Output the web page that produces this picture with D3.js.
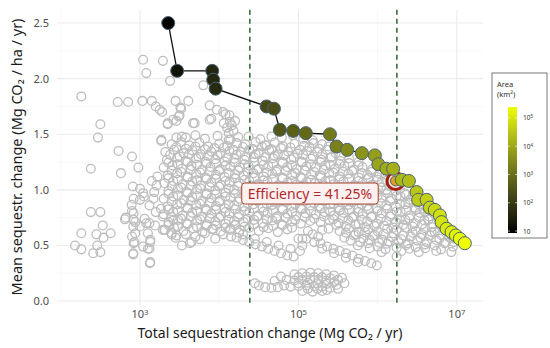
<!DOCTYPE html>
<html>
<head>
<script src="https://cdn.jsdelivr.net/npm/d3@7"></script>
<style>
  html, body { margin: 0; padding: 0; background: #fff; }
  svg { font-family: "Noto Sans", "Open Sans", sans-serif; }
</style>
</head>
<body>
<script>
var width = 550, height = 348;

// frontier points: total change (Mg CO2/yr), mean change (Mg CO2/ha/yr), area (km2)
var pathTotal = [2275, 2950, 8170, 8410, 9020, 39700, 49100, 58400, 85900, 124000, 250000,
  303000, 413000, 632000, 923000, 1.02e6, 1.29e6, 1.57e6, 1.68e6, 2.02e6, 2.48e6,
  3.10e6, 3.25e6, 4.15e6, 4.57e6, 5.27e6, 6.10e6, 6.41e6, 7.41e6, 8.57e6, 9.71e6, 1.09e7, 1.26e7];
var pathMean = [2.50, 2.07, 2.07, 1.99, 1.91, 1.75, 1.73, 1.54, 1.53, 1.51, 1.50,
  1.39, 1.36, 1.33, 1.31, 1.23, 1.19, 1.19, 1.08, 1.09, 1.08,
  0.98, 0.91, 0.91, 0.84, 0.82, 0.77, 0.71, 0.65, 0.62, 0.59, 0.56, 0.52];
var pathArea = [9.1, 14.3, 39.5, 42, 47, 227, 284, 379, 561, 821, 1667,
  2180, 3040, 4750, 7050, 8290, 10800, 13200, 15500, 18500, 23000,
  31600, 35700, 45600, 54400, 64300, 79200, 90300, 114000, 138000, 165000, 195000, 242000];
var highlightIndex = 18;

// all other candidate solutions: [log10 total change, mean change]
var cloud = [
  [2.26,1.84],[2.72,1.79],[2.85,1.79],[3.03,1.80],[3.15,1.80],[3.20,1.75],[3.28,1.70],[3.45,1.80],[3.61,1.80],
  [3.51,1.74],[3.49,1.66],[3.46,1.62],[3.35,1.59],[2.50,1.59],[2.47,1.47],[2.73,1.35],[2.90,1.30],[2.98,1.20],
  [2.76,1.15],[2.38,1.19],[3.27,1.44],[3.38,1.98],[3.04,2.17],[3.29,2.16],[3.08,2.05],[3.80,1.94],[3.25,1.72],
  [3.52,1.73],[3.42,1.63],[3.50,1.67],[3.67,1.60],[3.90,1.64],[3.88,1.76],[4.05,1.70],[4.135,1.61],[3.88,1.63],
  [3.69,1.60],[3.97,1.72],[4.08,1.68],[4.13,1.67],[4.16,1.58],[4.12,1.51],[4.37,1.48],[4.60,1.40],
  [3.35,1.60],[3.46,1.47],[3.53,1.48],[3.27,1.45],[4.10,1.56],[4.18,1.53],[4.06,1.60],[4.20,1.62],[4.14,1.45],
  [2.91,1.03],[2.92,0.92],[2.895,0.865],[2.90,0.81],[2.82,0.75],[2.94,0.71],[2.915,0.67],[2.94,0.61],[2.90,0.58],
  [2.93,0.53],[3.00,1.01],[3.05,0.94],[3.17,0.92],[3.12,0.70],[3.10,0.61],[3.13,0.55],[3.12,0.47],[3.19,0.68],
  [3.06,0.74],[3.265,0.83],[3.315,0.64],[3.40,0.60],[3.46,0.59],[3.53,0.50],[3.63,0.52],[2.915,0.42],[3.126,0.34],
  [3.13,0.35],[2.92,0.52],[3.04,0.49],[3.10,0.47],[3.13,0.53],[3.00,0.67],[3.08,0.70],[2.92,0.73],[2.92,0.79],
  [3.00,0.91],[3.04,0.97],[3.21,1.04],[3.29,0.76],[3.42,0.73],[3.29,0.64],[3.65,0.53],[3.76,0.555],[3.925,0.65],
  [4.135,0.64],[3.18,0.98],[3.15,1.08],[3.22,1.12],[3.12,0.86],[3.20,0.80],
  [2.18,0.50],[2.26,0.465],[2.41,0.43],[2.50,0.44],[2.46,0.50],[2.26,0.61],[2.45,0.60],[2.54,0.57],[2.63,0.61],
  [2.53,0.68],[2.38,0.80],[2.50,0.80],[2.81,0.735],[2.915,0.43],
  [3.58,1.47],[3.70,1.49],[3.82,1.46],[3.98,1.485],[4.12,1.45],[4.24,1.475],[4.52,1.455],[4.66,1.48],[4.79,1.47],
  [4.93,1.49],[5.06,1.46],[5.18,1.445],
  [3.40,1.41],[3.52,1.43],[3.62,1.40],[3.75,1.425],[3.86,1.39],[4.00,1.415],[4.10,1.395],[4.22,1.42],[4.33,1.41],
  [4.46,1.43],[4.58,1.40],[4.70,1.425],[4.81,1.39],[4.95,1.415],[5.07,1.395],[5.19,1.42],[5.30,1.41],
  [3.32,1.34],[3.43,1.36],[3.55,1.33],[3.66,1.355],[3.77,1.32],[3.90,1.345],[4.02,1.325],[4.13,1.35],[4.27,1.34],
  [4.38,1.36],[4.50,1.33],[4.63,1.355],[4.74,1.32],[4.87,1.345],[4.99,1.325],[5.11,1.35],[5.24,1.34],[5.36,1.36],[5.47,1.33],
  [3.34,1.27],[3.47,1.29],[3.58,1.26],[3.71,1.285],[3.83,1.25],[3.95,1.275],[4.07,1.255],[4.19,1.28],[4.32,1.27],
  [4.44,1.29],[4.55,1.26],[4.68,1.285],[4.80,1.25],[4.91,1.275],[5.04,1.255],[5.16,1.28],[5.29,1.27],[5.41,1.29],
  [5.53,1.26],[5.64,1.285],[5.76,1.25],
  [3.30,1.20],[3.41,1.22],[3.53,1.19],[3.65,1.215],[3.78,1.18],[3.89,1.205],[4.01,1.185],[4.14,1.21],[4.26,1.20],
  [4.37,1.22],[4.50,1.19],[4.62,1.215],[4.73,1.18],[4.86,1.205],[4.98,1.185],[5.10,1.21],[5.22,1.20],[5.34,1.22],
  [5.46,1.19],[5.58,1.215],[5.70,1.18],[5.81,1.205],[5.93,1.185],
  [3.35,1.13],[3.47,1.15],[3.60,1.12],[3.71,1.145],[3.83,1.11],[3.96,1.135],[4.07,1.115],[4.20,1.14],[4.31,1.13],
  [4.43,1.15],[4.56,1.12],[4.67,1.145],[4.80,1.11],[4.92,1.135],[5.03,1.115],[5.16,1.14],[5.28,1.13],[5.39,1.15],
  [5.52,1.12],[5.63,1.145],[5.76,1.11],[5.87,1.135],[5.99,1.115],[6.10,1.14],
  [3.31,1.06],[3.42,1.08],[3.54,1.05],[3.66,1.075],[3.77,1.04],[3.90,1.065],[4.02,1.045],[4.13,1.07],[4.25,1.06],
  [4.38,1.08],[4.49,1.05],[4.61,1.075],[4.74,1.04],[4.86,1.065],[4.97,1.045],[5.10,1.07],[5.21,1.06],[5.34,1.08],
  [5.45,1.05],[5.57,1.075],[5.70,1.04],[5.81,1.065],[5.93,1.045],[6.05,1.07],[6.17,1.05],[6.26,1.04],
  [3.36,0.99],[3.48,1.01],[3.59,0.98],[3.72,1.005],[3.84,0.97],[3.95,0.995],[4.08,0.975],[4.19,1.00],[4.32,0.99],
  [4.43,1.01],[4.55,0.98],[4.68,1.005],[4.79,0.97],[4.91,0.995],[5.04,0.975],[5.15,1.00],[5.27,0.99],[5.40,1.01],
  [5.51,0.98],[5.63,1.005],[5.75,0.97],[5.88,0.995],[5.99,0.975],[6.11,1.00],[6.23,0.99],[6.34,0.97],
  [3.30,0.92],[3.42,0.94],[3.55,0.91],[3.66,0.935],[3.78,0.90],[3.90,0.925],[4.01,0.905],[4.14,0.93],[4.26,0.92],
  [4.37,0.94],[4.50,0.91],[4.61,0.935],[4.73,0.90],[4.85,0.925],[4.98,0.905],[5.09,0.93],[5.21,0.92],[5.33,0.94],
  [5.46,0.91],[5.57,0.935],[5.69,0.90],[5.82,0.925],[5.93,0.905],[6.05,0.93],[6.17,0.92],[6.29,0.94],[6.41,0.91],[6.49,0.90],
  [3.35,0.85],[3.47,0.87],[3.60,0.84],[3.71,0.865],[3.83,0.83],[3.96,0.855],[4.07,0.835],[4.19,0.86],[4.32,0.85],
  [4.43,0.87],[4.55,0.84],[4.67,0.865],[4.80,0.83],[4.91,0.855],[5.03,0.835],[5.15,0.86],[5.27,0.85],[5.40,0.87],
  [5.51,0.84],[5.63,0.865],[5.76,0.83],[5.87,0.855],[5.99,0.835],[6.11,0.86],[6.23,0.85],[6.35,0.87],[6.47,0.84],[6.58,0.83],
  [3.30,0.78],[3.42,0.80],[3.54,0.77],[3.66,0.795],[3.78,0.76],[3.90,0.785],[4.02,0.765],[4.13,0.79],[4.25,0.78],
  [4.38,0.80],[4.49,0.77],[4.61,0.795],[4.73,0.76],[4.86,0.785],[4.97,0.765],[5.09,0.79],[5.22,0.78],[5.33,0.80],
  [5.45,0.77],[5.57,0.795],[5.70,0.76],[5.81,0.785],[5.93,0.765],[6.05,0.79],[6.17,0.78],[6.29,0.80],[6.41,0.77],
  [6.53,0.795],[6.65,0.76],[6.72,0.78],
  [3.36,0.71],[3.48,0.73],[3.59,0.70],[3.72,0.725],[3.84,0.69],[3.95,0.715],[4.08,0.695],[4.19,0.72],[4.31,0.71],
  [4.44,0.73],[4.55,0.70],[4.67,0.725],[4.79,0.69],[4.92,0.715],[5.03,0.695],[5.15,0.72],[5.28,0.71],[5.39,0.73],
  [5.51,0.70],[5.63,0.725],[5.76,0.69],[5.87,0.715],[5.99,0.695],[6.11,0.72],[6.23,0.71],[6.35,0.73],[6.47,0.70],
  [6.59,0.725],[6.70,0.69],[6.81,0.71],
  [3.31,0.64],[3.43,0.66],[3.55,0.63],[3.67,0.655],[3.79,0.62],[3.91,0.645],[4.02,0.625],[4.14,0.65],[4.26,0.64],
  [4.38,0.66],[4.50,0.63],[4.62,0.655],[4.74,0.62],[4.86,0.645],[5.12,0.63],[5.38,0.65],[5.52,0.63],[5.64,0.655],
  [5.76,0.62],[5.88,0.645],[6.00,0.625],[6.12,0.65],[6.24,0.64],[6.36,0.66],[6.48,0.63],[6.60,0.655],[6.72,0.62],
  [6.84,0.645],[6.92,0.63],
  [3.45,0.57],[3.70,0.58],[3.95,0.56],[4.15,0.58],[5.05,0.56],[5.25,0.58],[5.58,0.57],[5.70,0.59],[5.82,0.56],
  [5.94,0.585],[6.06,0.55],[6.18,0.575],[6.30,0.555],[6.42,0.58],[6.54,0.57],[6.66,0.59],[6.78,0.56],[6.90,0.575],[6.96,0.56],
  [5.75,0.50],[5.88,0.52],[6.00,0.49],[6.12,0.515],[6.24,0.48],[6.36,0.505],[6.48,0.485],[6.60,0.51],[6.72,0.50],
  [6.84,0.52],[6.95,0.49],
  [6.05,0.44],[6.24,0.40],[6.30,0.45],[6.52,0.44],[6.74,0.45],[6.93,0.44],
  [3.46,1.385],[3.58,1.37],[3.70,1.39],[3.82,1.365],[3.94,1.375],[4.06,1.38],[4.18,1.36],[4.30,1.385],[4.42,1.37],
  [4.54,1.39],[4.66,1.365],[4.78,1.375],[4.90,1.38],[5.02,1.36],[5.14,1.385],[5.26,1.37],[5.38,1.39],
  [3.38,1.315],[3.50,1.30],[3.62,1.32],[3.74,1.295],[3.86,1.305],[3.98,1.31],[4.10,1.29],[4.22,1.315],[4.34,1.30],
  [4.46,1.32],[4.58,1.295],[4.70,1.305],[4.82,1.31],[4.94,1.29],[5.06,1.315],[5.18,1.30],[5.30,1.32],[5.42,1.295],[5.54,1.305],
  [3.36,1.245],[3.48,1.23],[3.60,1.25],[3.72,1.225],[3.84,1.235],[3.96,1.24],[4.08,1.22],[4.20,1.245],[4.32,1.23],
  [4.44,1.25],[4.56,1.225],[4.68,1.235],[4.80,1.24],[4.92,1.22],[5.04,1.245],[5.16,1.23],[5.28,1.25],[5.40,1.225],
  [5.52,1.235],[5.64,1.24],[5.76,1.22],
  [3.40,1.175],[3.52,1.16],[3.64,1.18],[3.76,1.155],[3.88,1.165],[4.00,1.17],[4.12,1.15],[4.24,1.175],[4.36,1.16],
  [4.48,1.18],[4.60,1.155],[4.72,1.165],[4.84,1.17],[4.96,1.15],[5.08,1.175],[5.20,1.16],[5.32,1.18],[5.44,1.155],
  [5.56,1.165],[5.68,1.17],[5.80,1.15],[5.92,1.16],[6.02,1.145],
  [3.36,1.105],[3.48,1.09],[3.60,1.11],[3.72,1.085],[3.84,1.095],[3.96,1.10],[4.08,1.08],[4.20,1.105],[4.32,1.09],
  [4.44,1.11],[4.56,1.085],[4.68,1.095],[4.80,1.10],[4.92,1.08],[5.04,1.105],[5.16,1.09],[5.28,1.11],[5.40,1.085],
  [5.52,1.095],[5.64,1.10],[5.76,1.08],[5.88,1.105],[6.00,1.09],[6.12,1.085],
  [3.40,1.035],[3.52,1.02],[3.64,1.04],[3.76,1.015],[3.88,1.025],[4.00,1.03],[4.12,1.01],[4.24,1.035],[4.36,1.02],
  [4.48,1.04],[4.60,1.015],[4.72,1.025],[4.84,1.03],[4.96,1.01],[5.08,1.035],[5.20,1.02],[5.32,1.04],[5.44,1.015],
  [5.56,1.025],[5.68,1.03],[5.80,1.01],[5.92,1.035],[6.04,1.02],[6.16,1.03],[6.28,1.01],
  [3.36,0.965],[3.48,0.95],[3.60,0.97],[3.72,0.945],[3.84,0.955],[3.96,0.96],[4.08,0.94],[4.20,0.965],[4.32,0.95],
  [4.44,0.97],[4.56,0.945],[4.68,0.955],[4.80,0.96],[4.92,0.94],[5.04,0.965],[5.16,0.95],[5.28,0.97],[5.40,0.945],
  [5.52,0.955],[5.64,0.96],[5.76,0.94],[5.88,0.965],[6.00,0.95],[6.12,0.97],[6.24,0.945],[6.36,0.955],[6.44,0.94],
  [3.40,0.895],[3.52,0.88],[3.64,0.90],[3.76,0.875],[3.88,0.885],[4.00,0.89],[4.12,0.87],[4.24,0.895],[4.36,0.88],
  [4.48,0.90],[4.60,0.875],[4.72,0.885],[4.84,0.89],[4.96,0.87],[5.08,0.895],[5.20,0.88],[5.32,0.90],[5.44,0.875],
  [5.56,0.885],[5.68,0.89],[5.80,0.87],[5.92,0.895],[6.04,0.88],[6.16,0.90],[6.28,0.875],[6.40,0.885],[6.52,0.87],
  [3.36,0.825],[3.48,0.81],[3.60,0.83],[3.72,0.805],[3.84,0.815],[3.96,0.82],[4.08,0.80],[4.20,0.825],[4.32,0.81],
  [4.44,0.83],[4.56,0.805],[4.68,0.815],[4.80,0.82],[4.92,0.80],[5.04,0.825],[5.16,0.81],[5.28,0.83],[5.40,0.805],
  [5.52,0.815],[5.64,0.82],[5.76,0.80],[5.88,0.825],[6.00,0.81],[6.12,0.83],[6.24,0.805],[6.36,0.815],[6.48,0.82],
  [6.60,0.80],[6.66,0.815],
  [3.40,0.755],[3.52,0.74],[3.64,0.76],[3.76,0.735],[3.88,0.745],[4.00,0.75],[4.12,0.73],[4.24,0.755],[4.36,0.74],
  [4.48,0.76],[4.60,0.735],[4.72,0.745],[4.84,0.75],[4.96,0.73],[5.08,0.755],[5.20,0.74],[5.32,0.76],[5.44,0.735],
  [5.56,0.745],[5.68,0.75],[5.80,0.73],[5.92,0.755],[6.04,0.74],[6.16,0.76],[6.28,0.735],[6.40,0.745],[6.52,0.75],
  [6.64,0.73],[6.76,0.745],
  [3.36,0.685],[3.48,0.67],[3.60,0.69],[3.72,0.665],[3.84,0.675],[3.96,0.68],[4.08,0.66],[4.20,0.685],[4.32,0.67],
  [4.44,0.69],[4.56,0.665],[4.68,0.675],[4.80,0.68],[4.92,0.66],[5.48,0.685],[5.60,0.67],[5.72,0.69],[5.84,0.665],
  [5.96,0.675],[6.08,0.68],[6.20,0.66],[6.32,0.685],[6.44,0.67],[6.56,0.69],[6.68,0.665],[6.80,0.675],[6.88,0.66],
  [3.40,0.615],[3.58,0.60],[3.82,0.61],[4.05,0.60],[4.25,0.615],[5.60,0.615],[5.72,0.60],[5.84,0.62],[5.96,0.595],
  [6.08,0.605],[6.20,0.61],[6.32,0.59],[6.44,0.615],[6.56,0.60],[6.68,0.62],[6.80,0.595],[6.92,0.605],
  [5.66,0.545],[5.78,0.53],[5.90,0.55],[6.02,0.525],[6.14,0.535],[6.26,0.54],[6.38,0.52],[6.50,0.545],[6.62,0.53],
  [6.74,0.55],[6.86,0.525],[6.96,0.53],
  [5.90,0.475],[6.10,0.465],[6.40,0.47],[6.60,0.475],[6.80,0.465],
  [4.22,0.57],[4.30,0.55],[4.38,0.53],[4.46,0.51],[4.54,0.49],[4.62,0.47],[4.70,0.45],[4.78,0.43],[4.86,0.41],[4.94,0.40],
  [4.30,0.60],[4.45,0.56],[4.60,0.53],[4.75,0.50],[4.90,0.47],[5.02,0.45],
  [5.10,0.56],[5.20,0.53],[5.28,0.52],[5.36,0.49],[5.44,0.47],[5.52,0.45],[5.60,0.43],[5.68,0.41],[5.76,0.38],
  [5.84,0.36],[5.92,0.34],[5.99,0.32],[5.30,0.47],[5.45,0.43],[5.60,0.39],[5.75,0.35],
  [5.05,0.50],[5.18,0.60],[5.30,0.64],[5.00,0.56],
  [4.45,0.16],[4.50,0.14],[4.58,0.125],[4.66,0.12],[4.74,0.125],[4.82,0.14],[4.90,0.13],[4.95,0.24],[5.05,0.25],
  [5.15,0.255],[5.25,0.25],[5.35,0.24],[5.45,0.23],[5.55,0.21],[4.85,0.19],[4.95,0.185],[5.05,0.19],[5.15,0.195],
  [5.25,0.19],[5.35,0.185],[5.45,0.17],[5.58,0.16],[5.00,0.135],[5.10,0.14],[5.20,0.135],[5.30,0.13],[5.40,0.12],
  [5.50,0.11],[5.05,0.09],[5.18,0.085],[5.30,0.09],[4.78,0.22],[4.70,0.18],
  [5.00,0.215],[5.10,0.22],[5.20,0.215],[5.30,0.215],[5.40,0.205],[5.50,0.19],[5.00,0.16],[5.12,0.165],[5.24,0.16],
  [5.36,0.155],[5.48,0.145],[5.12,0.11],[5.24,0.11],[5.36,0.10]
];

var thresholds = [2.44e4, 1.75e6];
var efficiencyText = "Efficiency = 41.25%";
var labelPos = [1.4e5, 0.967];

var xTicks = [1e3, 1e5, 1e7];
var xMinor = [1e2, 1e4, 1e6];
var yTicks = [0, 0.5, 1, 1.5, 2, 2.5];
var yMinor = [0.25, 0.75, 1.25, 1.75, 2.25];
var legendTicks = [10, 1e2, 1e3, 1e4, 1e5];

var svg = d3.select('body').append('svg')
  .attr('width', width)
  .attr('height', height);

var x = d3.scaleLog().domain([Math.pow(10, 1.953), Math.pow(10, 7.33)]).range([57, 483]);
var y = d3.scaleLinear().domain([-0.04, 2.62]).range([305.5, 9.7]);
var color = d3.scaleLog().domain([8.5, 2.45e5]).range(['#000000', '#eeff00']).interpolate(d3.interpolateLab);

// grid
var grid = svg.append('g');
grid.selectAll('.ymin').data(yMinor).enter().append('line')
  .attr('x1', 57).attr('x2', 483).attr('y1', d => y(d)).attr('y2', d => y(d))
  .attr('stroke', '#f3f3f3').attr('stroke-width', 0.6);
grid.selectAll('.xmin').data(xMinor).enter().append('line')
  .attr('y1', 9.7).attr('y2', 305.5).attr('x1', d => x(d)).attr('x2', d => x(d))
  .attr('stroke', '#f3f3f3').attr('stroke-width', 0.6);
grid.selectAll('.ymaj').data(yTicks).enter().append('line')
  .attr('x1', 57).attr('x2', 483).attr('y1', d => y(d)).attr('y2', d => y(d))
  .attr('stroke', '#ebebeb').attr('stroke-width', 1.1);
grid.selectAll('.xmaj').data(xTicks).enter().append('line')
  .attr('y1', 9.7).attr('y2', 305.5).attr('x1', d => x(d)).attr('x2', d => x(d))
  .attr('stroke', '#ebebeb').attr('stroke-width', 1.1);

// threshold lines
svg.selectAll('.thr').data(thresholds).enter().append('line')
  .attr('x1', d => x(d)).attr('x2', d => x(d)).attr('y1', 9.7).attr('y2', 305.5)
  .attr('stroke', '#1f5a1f').attr('stroke-width', 1.4).attr('stroke-dasharray', '5,4');

// cloud of grey rings
svg.append('g').selectAll('circle').data(cloud).enter().append('circle')
  .attr('cx', d => x(Math.pow(10, d[0])))
  .attr('cy', d => y(d[1]))
  .attr('r', 4.4)
  .attr('fill', 'none')
  .attr('stroke', '#bdbdbd')
  .attr('stroke-width', 1.3);

var pts = pathTotal.map((t, i) => ({ t: t, m: pathMean[i], a: pathArea[i], i: i }));

// frontier line
svg.append('path')
  .datum(pts)
  .attr('d', d3.line().x(d => x(d.t)).y(d => y(d.m)))
  .attr('fill', 'none')
  .attr('stroke', '#111')
  .attr('stroke-width', 1.3);

// highlight ring
var hp = pts[highlightIndex];
svg.append('circle')
  .attr('cx', x(hp.t)).attr('cy', y(hp.m)).attr('r', 8.5)
  .attr('fill', '#fbe3e3').attr('stroke', '#a5200f').attr('stroke-width', 3);

svg.append('g').selectAll('circle').data(pts).enter().append('circle')
  .attr('cx', d => x(d.t))
  .attr('cy', d => y(d.m))
  .attr('r', d => d.i === highlightIndex ? 5 : 6.5)
  .attr('fill', d => d.i === highlightIndex ? '#e0a01c' : color(d.a))
  .attr('stroke', '#4a6275')
  .attr('stroke-width', 1);

// efficiency label
var lab = svg.append('g');
var labText = lab.append('text')
  .attr('x', x(labelPos[0])).attr('y', y(labelPos[1]) + 5)
  .attr('text-anchor', 'middle')
  .attr('font-size', 14)
  .attr('fill', '#b02a2a')
  .text(efficiencyText);
var bb = labText.node().getBBox();
lab.insert('rect', 'text')
  .attr('x', bb.x - 6).attr('y', y(labelPos[1]) - 10.5)
  .attr('width', bb.width + 12).attr('height', 21)
  .attr('rx', 3)
  .attr('fill', '#fdf1f1').attr('stroke', '#a8452e').attr('stroke-width', 1);

// axis labels
function sup(sel, v) {
  var e = Math.round(Math.log10(v));
  sel.append('tspan').text('10');
  if (e > 1) sel.append('tspan').attr('dy', '-0.45em').attr('font-size', '0.7em').text(e);
}
svg.selectAll('.xt').data(xTicks).enter().append('text')
  .attr('x', d => x(d)).attr('y', 318)
  .attr('text-anchor', 'middle')
  .attr('font-size', 11).attr('fill', '#4d4d4d')
  .each(function (d) { sup(d3.select(this), d); });
svg.selectAll('.yt').data(yTicks).enter().append('text')
  .attr('x', 49).attr('y', d => y(d) + 4)
  .attr('text-anchor', 'end')
  .attr('font-size', 11).attr('fill', '#4d4d4d')
  .text(d => d3.format('.1f')(d));

svg.append('text')
  .attr('x', 270).attr('y', 338)
  .attr('text-anchor', 'middle').attr('font-size', 14).attr('fill', '#1a1a1a')
  .text('Total sequestration change (Mg CO\u2082 / yr)');
svg.append('text')
  .attr('transform', 'translate(22,157) rotate(-90)')
  .attr('text-anchor', 'middle').attr('font-size', 14.5).attr('fill', '#1a1a1a')
  .text('Mean sequestr. change (Mg CO\u2082 / ha / yr)');

// legend
var leg = svg.append('g');
leg.append('rect').attr('x', 492).attr('y', 73).attr('width', 55).attr('height', 165)
  .attr('fill', '#fff').attr('stroke', '#555').attr('stroke-width', 0.8);
leg.append('text').attr('x', 497).attr('y', 87).attr('font-size', 7.5).attr('fill', '#333').text('Area');
leg.append('text').attr('x', 497).attr('y', 97).attr('font-size', 7.5).attr('fill', '#333').text('(km\u00b2)');

var ly = d3.scaleLog().domain(color.domain()).range([233, 107]);
var grad = svg.append('defs').append('linearGradient')
  .attr('id', 'areaGrad').attr('x1', 0).attr('x2', 0).attr('y1', 1).attr('y2', 0);
d3.range(0, 1.0001, 0.1).forEach(function (f) {
  var v = Math.pow(10, Math.log10(8.5) + f * Math.log10(2.45e5 / 8.5));
  grad.append('stop').attr('offset', f).attr('stop-color', color(v));
});
leg.append('rect').attr('x', 508).attr('y', 107).attr('width', 9).attr('height', 126)
  .attr('fill', 'url(#areaGrad)');
leg.selectAll('.lt').data(legendTicks).enter().append('line')
  .attr('x1', 508).attr('x2', 517).attr('y1', d => ly(d)).attr('y2', d => ly(d))
  .attr('stroke', '#fff').attr('stroke-width', 0.6).attr('stroke-dasharray', '2,5');
leg.selectAll('.ll').data(legendTicks).enter().append('text')
  .attr('x', 523).attr('y', d => ly(d) + 2.5)
  .attr('font-size', 6.5).attr('fill', '#333')
  .each(function (d) { sup(d3.select(this), d); });
</script>
</body>
</html>
